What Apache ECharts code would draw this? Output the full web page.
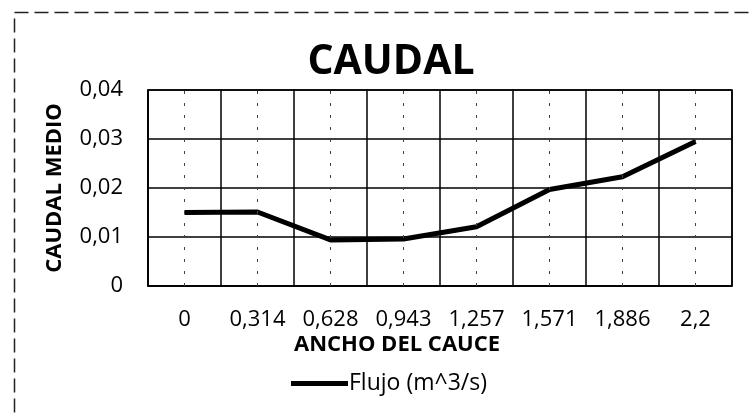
<!DOCTYPE html>
<html>
<head>
<meta charset="utf-8">
<script src="https://cdn.jsdelivr.net/npm/echarts@6/dist/echarts.min.js"></script>
<style>
  html, body { margin: 0; padding: 0; background: #fff; }
  #chart { width: 751px; height: 415px; }
</style>
</head>
<body>
<div id="chart"></div>
<script>
// ancho del cauce (m) y caudal medio
var anchos = ["0", "0,314", "0,628", "0,943", "1,257", "1,571", "1,886", "2,2"];
var flujo = [0.0150, 0.0151, 0.0094, 0.0096, 0.0121, 0.0197, 0.0223, 0.0295];
var yTicks = [0, 0.01, 0.02, 0.03, 0.04];

var fuente = "'Open Sans', sans-serif";

var chart = echarts.init(document.getElementById("chart"));
var option = {
    backgroundColor: "#fff",
    animation: false,
    title: {
        text: "CAUDAL",
        left: 386,
        top: 37,
        textAlign: "center",
        textStyle: {fontFamily: fuente, fontWeight: "bold", fontSize: 41, color: "#000"}
    },
    graphic: [{
        type: "rect",
        left: 12, top: 10,
        shape: {width: 800, height: 500},
        style: {fill: "none", stroke: "#222", lineWidth: 1.5, lineDash: [14, 6]},
        silent: true
    }],
    legend: {
        left: 286,
        top: 367,
        icon: "rect",
        itemWidth: 57,
        itemHeight: 5,
        data: ["Flujo (m^3/s)"],
        textStyle: {fontFamily: fuente, fontSize: 23, color: "#000", padding: [0, 0, 0, -4]}
    },
    grid: {left: 148, right: 19, top: 90, bottom: 129, show: true, borderColor: "#000", borderWidth: 1.5},
    xAxis: {
        type: "category",
        data: anchos,
        boundaryGap: true,
        name: "ANCHO DEL CAUCE",
        nameLocation: "middle",
        nameGap: 48,
        nameTextStyle: {fontFamily: fuente, fontWeight: "bold", fontSize: 22, color: "#000", padding: [0, 86, 0, 0]},
        axisLine: {lineStyle: {color: "#000", width: 1.5}},
        axisTick: {show: false},
        axisLabel: {fontFamily: fuente, fontSize: 22, color: "#000", margin: 23},
        splitLine: {show: true, lineStyle: {color: "#000", width: 1.5}}
    },
    yAxis: {
        type: "value",
        min: yTicks[0],
        max: yTicks[yTicks.length - 1],
        interval: 0.01,
        name: "CAUDAL MEDIO",
        nameLocation: "middle",
        nameGap: 82,
        nameTextStyle: {fontFamily: fuente, fontWeight: "bold", fontSize: 22, color: "#000"},
        axisLine: {show: true, lineStyle: {color: "#000", width: 1.5}},
        axisTick: {show: false},
        axisLabel: {
            fontFamily: fuente, fontSize: 22, color: "#000", margin: 25,
            formatter: function (v) { return v === 0 ? "0" : v.toFixed(2).replace(".", ","); }
        },
        splitLine: {show: true, lineStyle: {color: "#000", width: 1.5}}
    },
    series: [{
        name: "Flujo (m^3/s)",
        type: "line",
        data: flujo,
        showSymbol: false,
        color: "#000",
        lineStyle: {color: "#000", width: 5},
        // lineas punteadas en el centro de cada categoria (como en el original)
        markLine: {
            silent: true,
            symbol: "none",
            label: {show: false},
            lineStyle: {color: "#444", width: 1, type: [3, 9]},
            data: anchos.map(function (a) { return {xAxis: a}; })
        }
    }]
};
chart.setOption(option);
</script>
</body>
</html>
